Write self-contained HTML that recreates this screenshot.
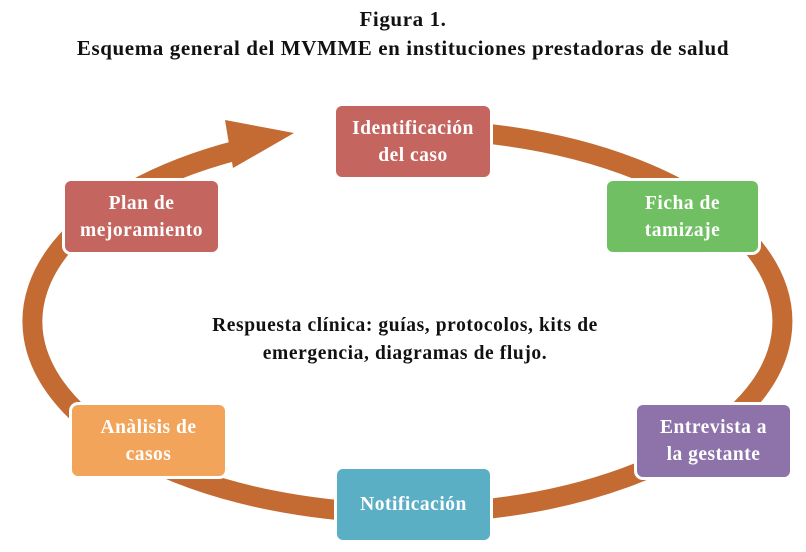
<!DOCTYPE html>
<html><head><meta charset="utf-8"><style>
body{margin:0;width:806px;height:552px;background:#fff;position:relative;overflow:hidden;font-family:"Liberation Serif",serif}
.t{position:absolute;left:0;width:806px;text-align:center;font-weight:bold;font-size:21px;letter-spacing:0.6px;color:#111;line-height:24px}
.b{position:absolute;box-sizing:border-box;border:3px solid #fff;border-radius:9px;color:#fff;font-weight:bold;font-size:19.5px;letter-spacing:0.5px;line-height:27px;display:flex;align-items:center;justify-content:center;text-align:center}
.c{position:absolute;left:100px;width:610px;text-align:center;font-weight:bold;font-size:19.5px;letter-spacing:0.6px;line-height:28px;color:#111;top:312px}
</style></head><body>
<div class="t" style="top:7px">Figura 1.</div>
<div class="t" style="top:36px">Esquema general del MVMME en instituciones prestadoras de salud</div>
<svg width="806" height="552" style="position:absolute;left:0;top:0">
<path d="M490 134 A375 192 0 1 1 238 150" fill="none" stroke="#c46a33" stroke-width="20"/>
<polygon points="225,120 294,133 233,168" fill="#c46a33"/>
</svg>
<div class="b" style="left:333px;top:103px;width:160px;height:77px;background:#c5655f">Identificación<br>del caso</div>
<div class="b" style="left:604px;top:178px;width:157px;height:77px;background:#71bf63">Ficha de<br>tamizaje</div>
<div class="b" style="left:634px;top:402px;width:159px;height:78px;background:#8d73a9">Entrevista a<br>la gestante</div>
<div class="b" style="left:334px;top:466px;width:159px;height:77px;background:#5aafc5">Notificación</div>
<div class="b" style="left:69px;top:402px;width:159px;height:77px;background:#f2a55a">Anàlisis de<br>casos</div>
<div class="b" style="left:62px;top:178px;width:159px;height:77px;background:#c5655f">Plan de<br>mejoramiento</div>
<div class="c">Respuesta clínica: guías, protocolos, kits de<br>emergencia, diagramas de flujo.</div>
</body></html>
